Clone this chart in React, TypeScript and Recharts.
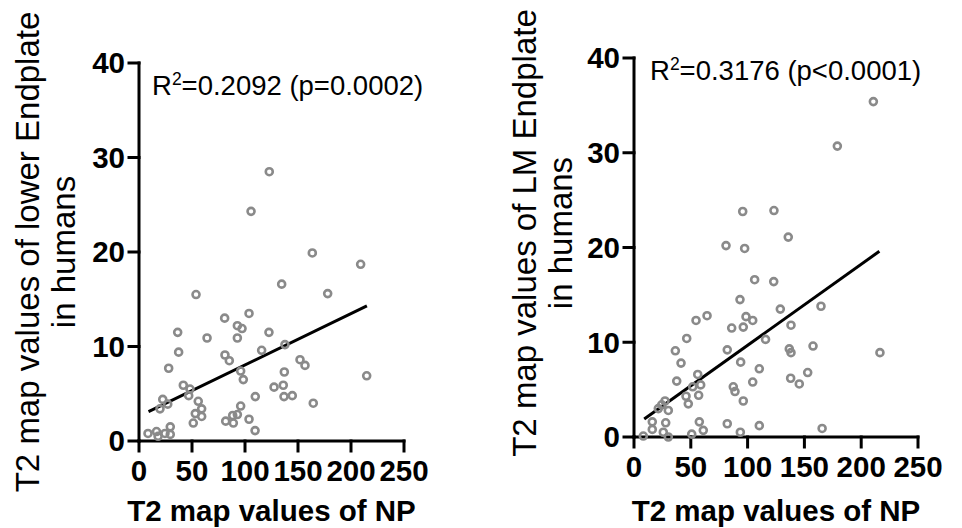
import React from 'react';
import { ScatterChart, Scatter, XAxis, YAxis, ReferenceLine, Customized } from 'recharts';

// lower endplate vs NP (x = NP, y = endplate)
const lowerPoints = [
  { x: 122.9, y: 28.5 }, { x: 105.7, y: 24.3 }, { x: 134.6, y: 16.6 }, { x: 53.8, y: 15.5 },
  { x: 80.8, y: 13.0 }, { x: 103.8, y: 13.5 }, { x: 36.5, y: 11.5 }, { x: 92.8, y: 12.2 },
  { x: 97.2, y: 11.9 }, { x: 64.2, y: 10.9 }, { x: 92.8, y: 10.9 }, { x: 122.6, y: 11.5 },
  { x: 137.7, y: 10.2 }, { x: 37.4, y: 9.4 }, { x: 81.1, y: 9.1 }, { x: 85.2, y: 8.5 },
  { x: 115.7, y: 9.6 }, { x: 28.0, y: 7.7 }, { x: 95.9, y: 7.4 }, { x: 98.4, y: 6.5 },
  { x: 137.1, y: 7.3 }, { x: 41.8, y: 5.9 }, { x: 48.1, y: 5.5 }, { x: 46.9, y: 4.8 },
  { x: 55.9, y: 4.2 }, { x: 59.1, y: 3.4 }, { x: 53.1, y: 2.9 }, { x: 59.1, y: 2.6 },
  { x: 51.2, y: 1.9 }, { x: 22.4, y: 4.4 }, { x: 27.1, y: 3.9 }, { x: 19.8, y: 3.4 },
  { x: 127.4, y: 5.7 }, { x: 136.1, y: 5.9 }, { x: 109.7, y: 4.7 }, { x: 136.8, y: 4.7 },
  { x: 95.9, y: 3.7 }, { x: 81.8, y: 2.1 }, { x: 88.4, y: 2.7 }, { x: 92.8, y: 2.8 },
  { x: 89.0, y: 1.9 }, { x: 103.8, y: 2.3 }, { x: 109.5, y: 1.1 }, { x: 8.5, y: 0.8 },
  { x: 16.5, y: 1.0 }, { x: 18.0, y: 0.5 }, { x: 24.5, y: 0.8 }, { x: 29.5, y: 1.5 },
  { x: 29.5, y: 0.7 }, { x: 163.5, y: 19.9 }, { x: 209.1, y: 18.7 }, { x: 178.0, y: 15.6 },
  { x: 151.9, y: 8.6 }, { x: 156.6, y: 8.0 }, { x: 144.6, y: 4.8 }, { x: 164.4, y: 4.0 },
  { x: 214.8, y: 6.9 },
];

// LM endplate vs NP
const lmPoints = [
  { x: 95.7, y: 23.8 }, { x: 123.2, y: 23.9 }, { x: 81.0, y: 20.2 }, { x: 97.4, y: 19.9 },
  { x: 106.2, y: 16.6 }, { x: 123.0, y: 16.4 }, { x: 93.3, y: 14.5 }, { x: 64.3, y: 12.8 },
  { x: 54.6, y: 12.3 }, { x: 98.6, y: 12.7 }, { x: 104.5, y: 12.3 }, { x: 86.0, y: 11.5 },
  { x: 96.2, y: 11.6 }, { x: 46.4, y: 10.4 }, { x: 115.8, y: 10.3 }, { x: 36.4, y: 9.1 },
  { x: 82.1, y: 9.2 }, { x: 41.4, y: 7.8 }, { x: 93.9, y: 7.9 }, { x: 110.3, y: 7.2 },
  { x: 37.6, y: 5.9 }, { x: 56.1, y: 6.6 }, { x: 104.5, y: 5.8 }, { x: 51.7, y: 5.3 },
  { x: 58.7, y: 5.5 }, { x: 45.8, y: 4.3 }, { x: 56.9, y: 4.4 }, { x: 47.8, y: 3.5 },
  { x: 87.4, y: 5.3 }, { x: 88.9, y: 4.8 }, { x: 96.2, y: 3.8 }, { x: 27.3, y: 3.8 },
  { x: 21.4, y: 3.0 }, { x: 24.4, y: 3.4 }, { x: 30.2, y: 2.8 }, { x: 16.1, y: 1.6 },
  { x: 16.1, y: 0.8 }, { x: 27.9, y: 1.5 }, { x: 25.8, y: 0.5 }, { x: 30.2, y: 0.0 },
  { x: 8.2, y: 0.1 }, { x: 50.8, y: 0.3 }, { x: 57.5, y: 1.6 }, { x: 61.0, y: 0.7 },
  { x: 82.1, y: 1.4 }, { x: 93.6, y: 0.5 }, { x: 110.3, y: 1.2 }, { x: 210.7, y: 35.4 },
  { x: 179.0, y: 30.7 }, { x: 135.8, y: 21.1 }, { x: 128.8, y: 13.5 }, { x: 164.6, y: 13.8 },
  { x: 138.2, y: 11.8 }, { x: 136.7, y: 9.3 }, { x: 138.2, y: 8.9 }, { x: 157.6, y: 9.6 },
  { x: 216.5, y: 8.9 }, { x: 152.9, y: 6.8 }, { x: 137.9, y: 6.2 }, { x: 145.5, y: 5.6 },
  { x: 165.6, y: 0.9 },
];

// fitted lines, end points
const lowerFit = [{ x: 9, y: 3.1 }, { x: 215, y: 14.3 }];
const lmFit = [{ x: 9, y: 1.9 }, { x: 216, y: 19.6 }];

const xTicks = [0, 50, 100, 150, 200, 250];
const yTicks = [0, 10, 20, 30, 40];

const FONT = '"Liberation Sans", Arial, Helvetica, sans-serif';
const tickStyle = { fill: '#000', fontSize: 29.5, fontWeight: 'bold', fontFamily: FONT };
const axisStroke = { stroke: '#000', strokeWidth: 3, strokeLinecap: 'square' as const };

const Ring = (p: any) => (
  <circle cx={p.cx} cy={p.cy} r={3.5} fill="none" stroke="#8a8a8a" strokeWidth={2.6} />
);

const YTitle = ({ viewBox, lines, x1, x2, cy }: any) => {
  const mid = cy ?? viewBox.y + viewBox.height / 2;
  return (
    <g fontFamily={FONT} fontSize={33} fill="#000">
      <text x={x1} y={mid} textAnchor="middle" dominantBaseline="central" transform={`rotate(-90 ${x1} ${mid})`}>
        {lines[0]}
      </text>
      <text x={x2} y={mid} textAnchor="middle" dominantBaseline="central" transform={`rotate(-90 ${x2} ${mid})`}>
        {lines[1]}
      </text>
    </g>
  );
};

const XTitle = ({ viewBox }: any) => (
  <text
    x={viewBox.x + viewBox.width / 2}
    y={521}
    textAnchor="middle"
    fontFamily={FONT}
    fontSize={29.5}
    fontWeight="bold"
    fill="#000"
  >
    T2 map values of NP
  </text>
);

const RSquared = ({ x, y, value }: { x: number; y: number; value: string }) => (
  <text x={x} y={y} fontFamily={FONT} fontSize={27.5} fill="#000">
    R<tspan dy={-10} fontSize={17.5}>2</tspan>
    <tspan dy={10}>{value}</tspan>
  </text>
);

function Panel({ data, fit, width, margin, yWidth, xHeight, lines, x1, x2, cy, stat, statX, statY }: any) {
  return (
    <ScatterChart width={width} height={528} margin={margin}>
      <XAxis
        type="number"
        dataKey="x"
        domain={[0, 250]}
        ticks={xTicks}
        interval={0}
        height={xHeight}
        tickSize={10}
        tickMargin={9}
        axisLine={axisStroke}
        tickLine={axisStroke}
        tick={tickStyle}
        label={<XTitle />}
      />
      <YAxis
        type="number"
        dataKey="y"
        domain={[0, 40]}
        ticks={yTicks}
        interval={0}
        width={yWidth}
        tickSize={10}
        tickMargin={4}
        axisLine={axisStroke}
        tickLine={axisStroke}
        tick={tickStyle}
        label={<YTitle lines={lines} x1={x1} x2={x2} cy={cy} />}
      />
      <Scatter data={data} shape={Ring} isAnimationActive={false} />
      <ReferenceLine segment={fit} stroke="#000" strokeWidth={3} ifOverflow="visible" />
      <Customized component={() => <RSquared x={statX} y={statY} value={stat} />} />
    </ScatterChart>
  );
}

export default function App() {
  return (
    <div style={{ position: 'absolute', left: 0, top: 0, width: 962, height: 528, background: '#fff' }}>
      <div style={{ position: 'absolute', left: 0, top: 0 }}>
        <Panel
          data={lowerPoints}
          fit={lowerFit}
          width={480}
          margin={{ top: 63, right: 76, bottom: 0, left: 0 }}
          yWidth={139}
          xHeight={87}
          lines={['T2 map values of lower Endplate', 'in humans']}
          x1={27}
          x2={63}
          cy={252}
          stat="=0.2092 (p=0.0002)"
          statX={152}
          statY={95}
        />
      </div>
      <div style={{ position: 'absolute', left: 480, top: 0 }}>
        <Panel
          data={lmPoints}
          fit={lmFit}
          width={482}
          margin={{ top: 58, right: 44, bottom: 0, left: 0 }}
          yWidth={154}
          xHeight={91}
          lines={['T2 map values of LM Endplate', 'in humans']}
          x1={44}
          x2={80}
          cy={233}
          stat="=0.3176 (p<0.0001)"
          statX={170}
          statY={80}
        />
      </div>
    </div>
  );
}
